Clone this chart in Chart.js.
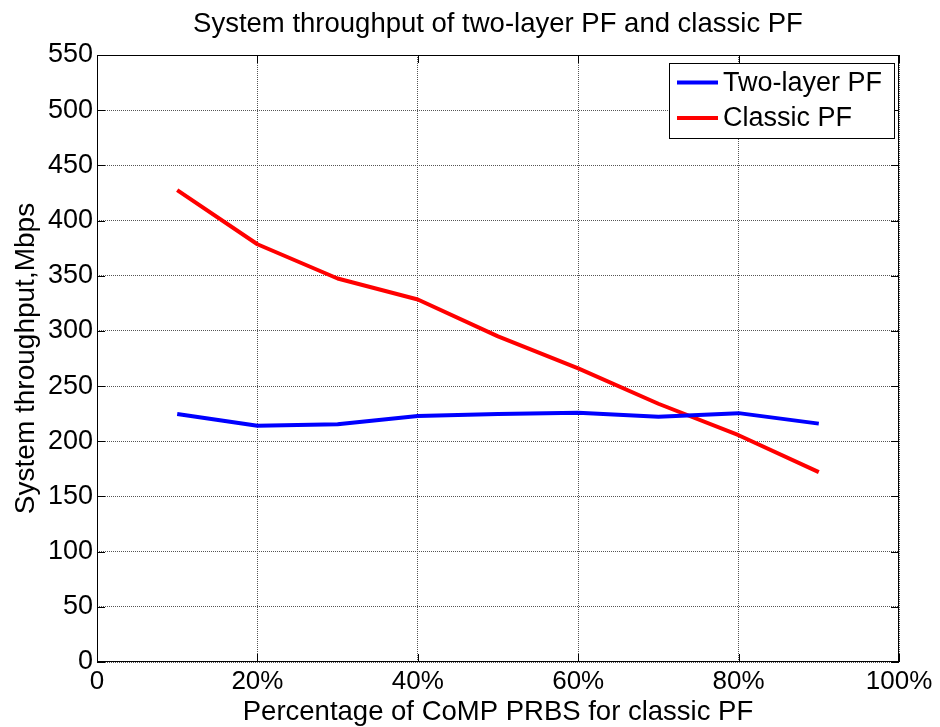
<!DOCTYPE html>
<html>
<head>
<meta charset="utf-8">
<script src="https://cdn.jsdelivr.net/npm/chart.js@4/dist/chart.umd.min.js"></script>
<style>
  html, body { margin: 0; padding: 0; background: #fff; }
  canvas { display: block; }
</style>
</head>
<body>
<canvas id="c" width="940" height="727"></canvas>
<script>
// Share of CoMP PRBs given to classic PF (%)
const percentages = [10, 20, 30, 40, 50, 60, 70, 80, 90];
// System throughput, Mbps
const twoLayerPF = [224.7, 214.0, 215.5, 223.0, 224.7, 225.8, 222.3, 225.5, 216.0];
const classicPF  = [427.5, 378.5, 347.5, 328.5, 295.0, 266.0, 234.0, 205.5, 172.0];
const xTickLabels = ['0', '20%', '40%', '60%', '80%', '100%'];
const seriesNames = ['Two-layer PF', 'Classic PF'];
const chartTitle = 'System throughput of two-layer PF and classic PF';
const xTitle = 'Percentage of CoMP PRBS for classic PF';
const yTitle = 'System throughput,Mbps';

const FONT_FAMILY = '"Liberation Sans", Arial, Helvetica, sans-serif';

const toPoints = (ys) => ys.map((y, i) => ({ x: percentages[i], y }));

// Box around the plot, inward tick marks, title and boxed legend
const framePlugin = {
  id: 'frame',
  afterDraw(chart) {
    const { ctx, chartArea: a, scales } = chart;
    const tl = 8;
    ctx.save();
    ctx.strokeStyle = '#000';
    ctx.lineWidth = 1;
    ctx.setLineDash([]);
    ctx.strokeRect(a.left + 0.5, a.top + 0.5, a.right - a.left - 1, a.bottom - a.top - 1);
    ctx.beginPath();
    scales.y.ticks.forEach(t => {
      const py = Math.round(scales.y.getPixelForValue(t.value)) + 0.5;
      ctx.moveTo(a.left, py); ctx.lineTo(a.left + tl, py);
      ctx.moveTo(a.right, py); ctx.lineTo(a.right - tl, py);
    });
    scales.x.ticks.forEach(t => {
      const px = Math.round(scales.x.getPixelForValue(t.value)) + 0.5;
      ctx.moveTo(px, a.bottom); ctx.lineTo(px, a.bottom - tl);
      ctx.moveTo(px, a.top); ctx.lineTo(px, a.top + tl);
    });
    ctx.stroke();

    // title
    ctx.fillStyle = '#000';
    ctx.font = '27.5px ' + FONT_FAMILY;
    ctx.textAlign = 'center';
    ctx.textBaseline = 'middle';
    ctx.fillText(chartTitle, (a.left + a.right) / 2, 24);

    // legend
    const lx = 669, ly = 63, lw = 225, lh = 75;
    ctx.fillStyle = '#fff';
    ctx.fillRect(lx, ly, lw, lh);
    ctx.strokeStyle = '#000';
    ctx.strokeRect(lx + 0.5, ly + 0.5, lw, lh);
    ctx.font = '27px ' + FONT_FAMILY;
    chart.data.datasets.forEach((ds, i) => {
      const cy = 82.5 + i * 35.5;
      ctx.strokeStyle = ds.borderColor;
      ctx.lineWidth = 4;
      ctx.beginPath();
      ctx.moveTo(677, cy); ctx.lineTo(718, cy);
      ctx.stroke();
      ctx.fillStyle = '#000';
      ctx.textAlign = 'left';
      ctx.fillText(ds.label, 723, cy + 1);
    });
    ctx.restore();
  }
};

Chart.defaults.font.family = FONT_FAMILY;
Chart.defaults.font.size = 27;
Chart.defaults.color = '#000';

new Chart(document.getElementById('c'), {
  type: 'line',
  data: {
    datasets: [
      { label: seriesNames[0], data: toPoints(twoLayerPF), borderColor: '#0000ff', backgroundColor: '#0000ff' },
      { label: seriesNames[1], data: toPoints(classicPF), borderColor: '#ff0000', backgroundColor: '#ff0000' }
    ]
  },
  options: {
    responsive: false,
    devicePixelRatio: 1,
    animation: false,
    events: [],
    layout: { padding: { top: 55, right: 41, bottom: 0, left: 0 } },
    elements: {
      line: { borderWidth: 4, tension: 0, borderCapStyle: 'butt', borderJoinStyle: 'round' },
      point: { radius: 0, hoverRadius: 0 }
    },
    plugins: { legend: { display: false }, tooltip: { enabled: false }, title: { display: false } },
    scales: {
      x: {
        type: 'linear',
        min: 0, max: 100,
        ticks: {
          stepSize: 20,
          padding: 4,
          maxRotation: 0,
          autoSkip: false,
          font: { size: 26 },
          callback: (v) => xTickLabels[Math.round(v / 20)]
        },
        grid: { color: '#555', lineWidth: 1, drawTicks: false },
        border: { display: false, dash: [1, 1] },
        title: { display: true, text: xTitle, font: { size: 27.5, lineHeight: 1 }, padding: { top: 0, bottom: 1 } },
        afterFit(scale) { scale.height = 65; }
      },
      y: {
        min: 0, max: 550,
        ticks: { stepSize: 50, padding: 4, autoSkip: false, font: { size: 27 } },
        grid: { color: '#555', lineWidth: 1, drawTicks: false },
        border: { display: false, dash: [1, 1] },
        title: { display: true, text: yTitle, font: { size: 28, lineHeight: 1 }, padding: { top: 12, bottom: 0 } },
        afterFit(scale) { scale.width = 97; }
      }
    }
  },
  plugins: [framePlugin]
});
</script>
</body>
</html>
